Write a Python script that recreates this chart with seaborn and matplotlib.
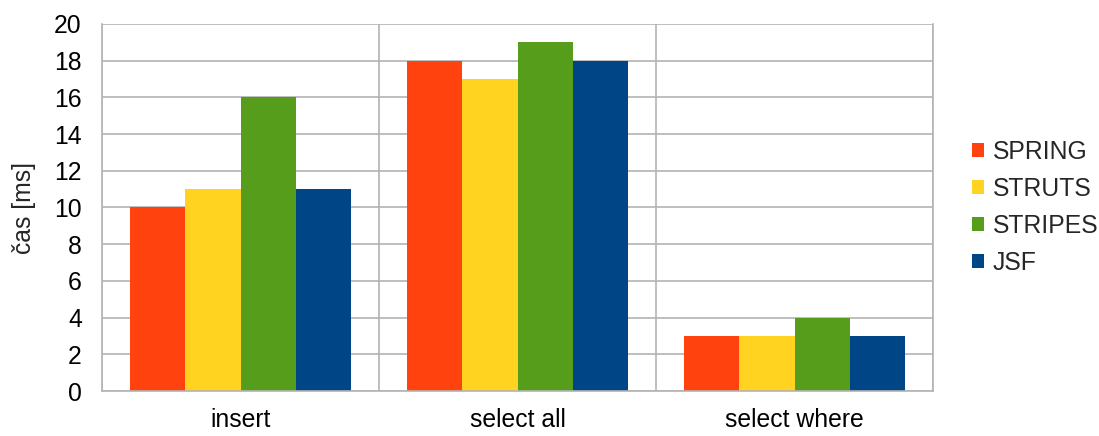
import matplotlib
matplotlib.use("Agg")
import matplotlib.pyplot as plt
import seaborn as sns
import pandas as pd
import numpy as np

categories = ["insert", "select all", "select where"]
series = ["SPRING", "STRUTS", "STRIPES", "JSF"]
spring = [10, 18, 3]
struts = [11, 17, 3]
stripes = [16, 19, 4]
jsf = [11, 18, 3]
colors = ["#FF420E", "#FFD320", "#579D1C", "#004586"]

rows = []
for name, vals in zip(series, [spring, struts, stripes, jsf]):
    for c, v in zip(categories, vals):
        rows.append({"cat": c, "series": name, "val": v})
df = pd.DataFrame(rows)

sns.set_style("white")
plt.rcParams['font.family'] = ['Liberation Sans', 'DejaVu Sans']

FS = 17.8
fig = plt.figure(figsize=(10.99, 4.36), dpi=100)
ax = fig.add_axes([102/1099, 1 - 391/436, (933-102)/1099, (391-24)/436])

sns.barplot(data=df, x="cat", y="val", hue="series", palette=colors,
            order=categories, hue_order=series, width=0.795, gap=0,
            saturation=1, ax=ax, linewidth=0, errorbar=None)

grid_c = "#b3b3b3"
ax.set_ylim(0, 20)
ax.set_xlim(-0.5, 2.5)
ax.set_yticks(np.arange(0, 21, 2))
ax.yaxis.grid(True, color=grid_c, linewidth=1.2)
ax.set_xticks([0, 1, 2])
ax.set_xticks([-0.5, 0.5, 1.5, 2.5], minor=True)
ax.xaxis.grid(True, which="minor", color=grid_c, linewidth=1.2)
ax.set_axisbelow(True)
ax.tick_params(axis="x", which="major", length=0, pad=12, labelsize=FS, colors="#000000")
ax.tick_params(axis="x", which="minor", length=6, width=1.2, color=grid_c, direction="out")
ax.tick_params(axis="y", length=6.5, width=1.2, color=grid_c, direction="out", labelsize=FS,
               pad=8, labelcolor="#000000")
for s in ax.spines.values():
    s.set_color(grid_c)
    s.set_linewidth(1.2)
ax.spines["top"].set_visible(False)
ax.set_xlabel("")
ax.set_ylabel("čas [ms]", fontsize=FS, labelpad=13)

h, l = ax.get_legend_handles_labels()
ax.legend(h, l, loc="center left", bbox_to_anchor=(1.047, 0.5), frameon=False,
          fontsize=FS, handlelength=0.5, handleheight=0.5, handletextpad=0.33,
          labelspacing=0.52, borderaxespad=0, borderpad=0)

fig.savefig("out.png", dpi=100)
